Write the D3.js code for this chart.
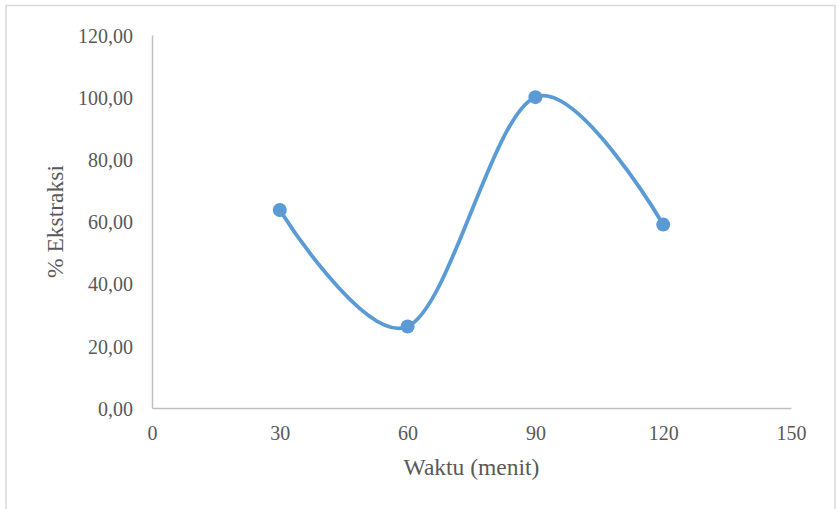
<!DOCTYPE html>
<html><head><meta charset="utf-8">
<script src="https://cdn.jsdelivr.net/npm/d3@7"></script>
<style>body{margin:0;background:#fff}svg{display:block}
svg text{font-family:"Liberation Serif","Times New Roman",Times,serif !important;}</style>
</head><body>
<svg id="c" width="837" height="509"></svg>
<script>
const waktu = [30, 60, 90, 120];
const ekstraksi = [63.7, 26.2, 100.0, 59.0];
const xTicks = [0, 30, 60, 90, 120, 150];
const yTicks = [0, 20, 40, 60, 80, 100, 120];
const xTitle = "Waktu (menit)";
const yTitle = "% Ekstraksi";

const svg = d3.select("#c");
svg.append("rect").attr("x", 6).attr("y", 5.5).attr("width", 829).attr("height", 520)
  .attr("fill", "#fff").attr("stroke", "#d9d9d9").attr("stroke-width", 1.5);

const L = 152, R = 791, T = 35, B = 408;
const x = d3.scaleLinear().domain([0, 150]).range([L, R]);
const y = d3.scaleLinear().domain([0, 120]).range([B, T]);
const fmt = d => d3.format(".2f")(d).replace(".", ",");

const gx = svg.append("g").attr("transform", `translate(0,${B})`)
  .call(d3.axisBottom(x).tickValues(xTicks).tickSize(0).tickPadding(0).tickFormat(d3.format("d")));
gx.attr("font-family", null);
gx.select(".domain").attr("stroke", "#bfbfbf").attr("stroke-width", 1.5);
gx.selectAll("text").attr("font-size", 20).attr("fill", "#595959")
  .attr("dy", null).attr("y", 32);

const gy = svg.append("g").attr("transform", `translate(${L},0)`)
  .call(d3.axisLeft(y).tickValues(yTicks).tickSize(0).tickPadding(19).tickFormat(fmt));
gy.attr("font-family", null);
gy.select(".domain").attr("stroke", "#bfbfbf").attr("stroke-width", 1.5);
gy.selectAll("text").attr("font-size", 20).attr("fill", "#595959")
  .attr("dy", "0.36em");

svg.append("text").attr("x", (L + R) / 2).attr("y", 475).attr("text-anchor", "middle")
  .attr("font-size", 23.5).attr("fill", "#595959").text(xTitle);
svg.append("text").attr("transform", `translate(63,${(T + B) / 2}) rotate(-90)`)
  .attr("text-anchor", "middle")
  .attr("font-size", 23.5).attr("fill", "#595959").text(yTitle);

const data = waktu.map((w, i) => ({ w, v: ekstraksi[i] }));
const line = d3.line().x(d => x(d.w)).y(d => y(d.v)).curve(d3.curveCardinal.tension(0));
svg.append("path").datum(data).attr("d", line).attr("fill", "none")
  .attr("stroke", "#5b9bd5").attr("stroke-width", 3.8).attr("stroke-linecap", "round");
svg.selectAll("circle.pt").data(data).join("circle").attr("class", "pt")
  .attr("cx", d => x(d.w)).attr("cy", d => y(d.v)).attr("r", 7)
  .attr("fill", "#5b9bd5");
</script>
</body></html>
